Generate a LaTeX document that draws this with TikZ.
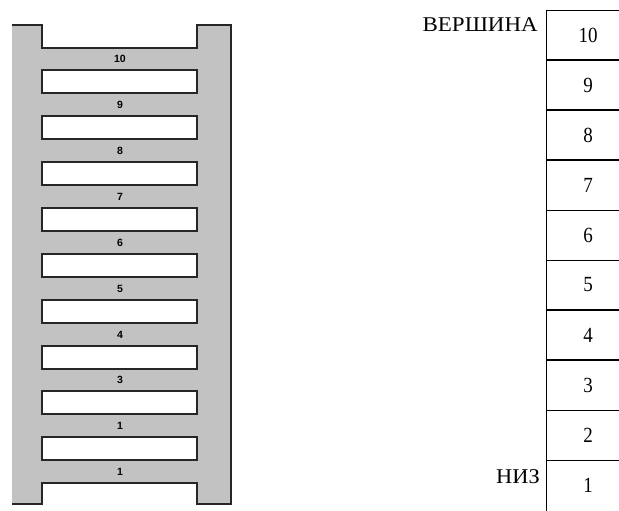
\documentclass[tikz,border=0pt]{standalone}
\usepackage{fontspec}
\setmainfont{Liberation Serif}
\newfontfamily\lblfont{Liberation Sans}
\begin{document}
\begin{tikzpicture}[x=1pt,y=-1pt,
  rung/.style={draw=black!85,line width=1.4pt,fill=white,inner sep=0pt,minimum width=155pt,minimum height=23pt},
  rlabel/.style={font=\lblfont\bfseries\fontsize{10.5}{11}\selectfont,inner sep=0pt},
  cell/.style={font=\fontsize{20}{24}\selectfont,inner sep=0pt},
  side/.style={font=\fontsize{20}{24}\selectfont,inner sep=0pt,anchor=base east},
  thickline/.style={line width=1.8pt},
  thinline/.style={line width=0.9pt}]
\useasboundingbox (0,0) rectangle (619,511);
% ladder frame
\fill[gray!48] (12,25) -- (42,25) -- (42,48) -- (197,48) -- (197,25) -- (231,25)
  -- (231,504) -- (197,504) -- (197,483) -- (42,483) -- (42,504) -- (12,504) -- cycle;
\draw[black!85,line width=1.4pt] (12,25) -- (42,25) -- (42,48) -- (197,48) -- (197,25) -- (231,25)
  -- (231,504) -- (197,504) -- (197,483) -- (42,483) -- (42,504) -- (12,504);
% rungs
\foreach \i/\t in {1/70,2/116,3/162,4/208,5/254,6/300,7/346,8/391,9/437}
  \node[rung] (r\i) at (119.5,\t+11.5) {};
% labels
\node[rlabel] (l10) at (120,58.5) {10};
\node[rlabel] (l9) at (120,104.5) {9};
\node[rlabel] (l8) at (120,150.5) {8};
\node[rlabel] (l7) at (120,196.5) {7};
\node[rlabel] (l6) at (120,242.5) {6};
\node[rlabel] (l5) at (120,288.5) {5};
\node[rlabel] (l4) at (120,334.5) {4};
\node[rlabel] (l3) at (120,380) {3};
\node[rlabel] (l2) at (120,425.5) {1};
\node[rlabel] (l1) at (120,471.5) {1};
% right stack
\coordinate (stl) at (546,10);
\coordinate (sbl) at (546,511);
\draw[thinline] (stl) -- (sbl);
\foreach \y/\s in {10/thinline,60/thickline,110/thickline,160/thickline,210/thinline,260/thinline,310/thickline,360/thickline,410/thinline,460/thinline}
  \draw[\s] (546,\y) -- (619,\y);
\foreach \n in {1,...,10}
  \node[cell] (c\n) at (588,{485-50*(\n-1)}) {\scalebox{0.95}[1.08]{\n}};
\node[side] (top) at (538,32) {\scalebox{1.15}[1.05]{ВЕРШИНА}};
\node[side] (bot) at (540,483) {\scalebox{1.12}[1.05]{НИЗ}};
\end{tikzpicture}
\end{document}
